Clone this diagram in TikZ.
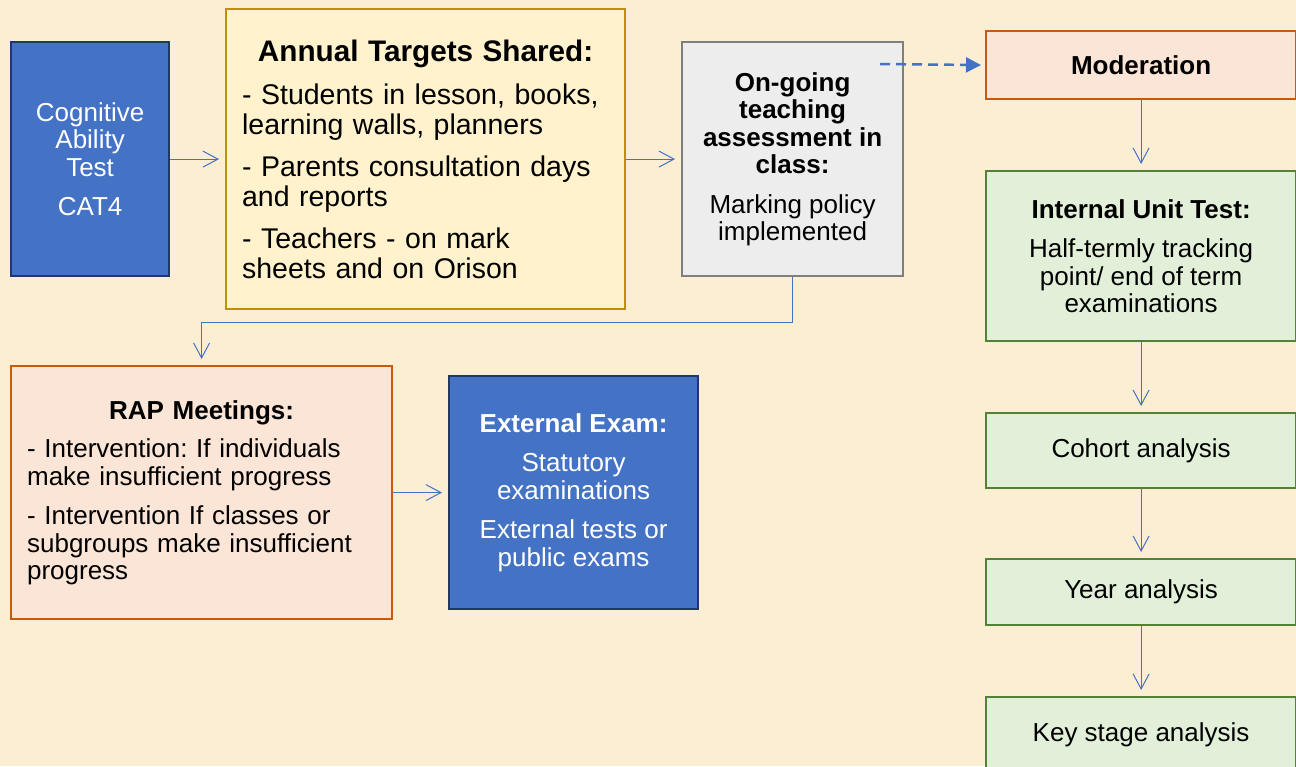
\documentclass[tikz,border=0pt]{standalone}
\usepackage{fontspec}
\setmainfont{Liberation Sans}
\usetikzlibrary{arrows.meta}
\frenchspacing
\definecolor{parchment}{HTML}{FCEED2}
\definecolor{boxblue}{HTML}{4472C4}
\definecolor{boxnavy}{HTML}{1F3864}
\definecolor{boxyellow}{HTML}{FFF2CC}
\definecolor{lineyellow}{HTML}{BF9000}
\definecolor{boxgrey}{HTML}{EDEDED}
\definecolor{linegrey}{HTML}{7F7F7F}
\definecolor{boxpeach}{HTML}{FBE5D6}
\definecolor{lineorange}{HTML}{C55A11}
\definecolor{boxgreen}{HTML}{E2F0D9}
\definecolor{linegreen}{HTML}{538135}
\definecolor{arrowblue}{HTML}{4472C4}
\begin{document}
\begin{tikzpicture}[x=1pt,y=-1pt,
box/.style={
% The shape:
rectangle,
line width=2.2pt,
anchor=north west,
inner sep=0pt,
align=center,
font=\fontsize{26}{27.5}\selectfont
},
bluebox/.style={box,fill=boxblue,draw=boxnavy,text=white},
yellowbox/.style={box,fill=boxyellow,draw=lineyellow},
greybox/.style={box,fill=boxgrey,draw=linegrey},
peachbox/.style={box,fill=boxpeach,draw=lineorange},
greenbox/.style={box,fill=boxgreen,draw=linegreen,minimum width=310pt},
flow/.style={draw=arrowblue,line width=1pt,-{Straight Barb[length=15pt,width=16pt]},shorten >=6pt},
dashflow/.style={draw=arrowblue,line width=2.5pt,dash pattern=on 10pt off 6pt,-{Triangle[length=15pt,width=15pt]},shorten >=4pt}
]
\clip (0,0) rectangle (1296,766);
\fill[parchment] (0,0) rectangle (1296,766);
% Top row:
\node (cat) [bluebox,minimum width=158pt,minimum height=234pt] at (10,41) {Cognitive\\Ability\\Test\\[12pt]CAT4};
\node (targets) [yellowbox,minimum width=399pt,minimum height=300pt,text width=367pt,inner xsep=16pt,align=left,font=\fontsize{28.5}{30}\selectfont] at (225,8) {\makebox[\linewidth]{\fontsize{29.7}{30}\selectfont\bfseries Annual Targets Shared:}\\[13pt]- Students in lesson, books,\\learning walls, planners\\[12pt]- Parents consultation days\\and reports\\[12pt]- Teachers - on mark\\sheets and on Orison};
\node (ongoing) [greybox,minimum width=221pt,minimum height=234pt] at (681,41) {\textbf{On-going}\\\textbf{teaching}\\\textbf{assessment in}\\\textbf{class:}\\[12pt]Marking policy\\implemented};
% Right column:
\node (moderation) [peachbox,minimum width=310pt,minimum height=68pt] at (985,30) {\textbf{Moderation}};
\node (unittest) [greenbox,minimum height=170pt] at (985,170) {\textbf{Internal Unit Test:}\\[12pt]Half-termly tracking\\point/ end of term\\examinations};
\node (cohort) [greenbox,minimum height=75pt] at (985,412) {Cohort analysis};
\node (year) [greenbox,minimum height=66pt] at (985,558) {Year analysis};
\node (keystage) [greenbox,minimum height=76pt] at (985,696) {Key stage analysis};
% Bottom row:
\node (rap) [peachbox,minimum width=381pt,minimum height=253pt,text width=349pt,inner xsep=16pt,align=left] at (10,365) {\makebox[\linewidth]{\bfseries RAP Meetings:}\\[11pt]- Intervention: If individuals\\make insufficient progress\\[12pt]- Intervention If classes or\\subgroups make insufficient\\progress};
\node (external) [bluebox,minimum width=249pt,minimum height=233pt] at (448,375) {\textbf{External Exam:}\\[12pt]Statutory\\examinations\\[12pt]External tests or\\public exams};
\coordinate (dashstart) at (880,64);
\path (cat) edge[flow] (targets) (targets) edge[flow] (ongoing) (rap) edge[flow] (external) (moderation) edge[flow] (unittest) (unittest) edge[flow] (cohort) (cohort) edge[flow] (year) (year) edge[flow] (keystage);
\draw[flow] (ongoing.south) -- ++(0,45) -| (rap.north);
\draw[dashflow] (dashstart) -- (moderation.west);
\end{tikzpicture}
\end{document}
